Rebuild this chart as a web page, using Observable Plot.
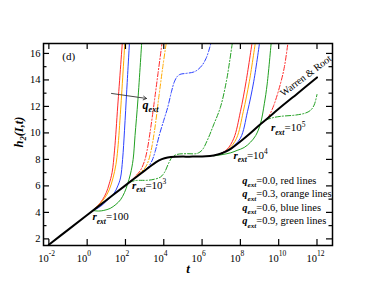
<!DOCTYPE html>
<html>
<head>
<meta charset="utf-8">
<script src="https://cdn.jsdelivr.net/npm/d3@7"></script>
<script src="https://cdn.jsdelivr.net/npm/@observablehq/plot@0.6"></script>
<style>
  html, body { margin: 0; padding: 0; background: white; }
</style>
</head>
<body>
<div id="chart"></div>
<script>
// ---- data: [log10 t, h2] pairs ----
const warrenRoot = [[-2,1.56],[-1,2.68],[0,3.8],[1,4.92],[2,6.04],[2.5,6.6],[3,7.15],[3.3,7.48],[3.6,7.8],[3.9,8.02],[4.2,8.14],[4.6,8.2],[5.5,8.21],[6.2,8.23],[6.6,8.3],[7.0,8.45],[7.5,8.8],[8.0,9.35],[8.5,9.95],[9.0,10.6],[9.5,11.2],[10,11.82],[11,13.0],[12,14.19]];

// r_ext = 100 (solid)
const r100_q00 = [[0.3,4.14],[0.55,4.5],[0.8,4.95],[1.0,5.5],[1.15,6.15],[1.3,7.0],[1.43,8.7],[1.6,12.1],[1.85,17.1]];
const r100_q03 = [[0.3,4.14],[0.6,4.55],[0.9,5.05],[1.15,5.7],[1.35,6.6],[1.5,7.6],[1.6,8.8],[1.75,11.8],[1.98,17.1]];
const r100_q06 = [[0.3,4.14],[0.7,4.45],[1.0,4.85],[1.39,5.4],[1.6,6.0],[1.74,6.6],[1.85,8.0],[1.95,10.2],[2.07,13.3],[2.22,17.1]];
const r100_q09 = [[0.3,4.14],[0.6,4.1],[0.87,4.15],[1.2,4.3],[1.5,4.6],[1.74,4.95],[1.95,5.5],[2.1,6.1],[2.26,6.9],[2.4,8.0],[2.5,9.8],[2.65,12.5],[2.86,17.1]];

// r_ext = 10^3 (dash-dot)
const r1e3_q00 = [[2.2,6.26],[2.5,6.7],[2.78,7.17],[3.0,7.9],[3.13,8.68],[3.3,10.2],[3.5,12.3],[3.7,14.5],[3.93,17.0]];
const r1e3_q03 = [[2.2,6.26],[2.5,6.65],[2.75,6.98],[3.04,7.4],[3.2,7.9],[3.34,8.68],[3.52,10.2],[3.75,12.8],[3.95,15.0],[4.15,17.0]];
const r1e3_q06 = [[2.2,6.26],[2.5,6.62],[2.9,7.05],[3.2,7.45],[3.4,7.95],[3.55,8.6],[3.78,9.9],[4.0,10.95],[4.21,11.95],[4.4,13.1],[4.55,13.85],[4.7,14.25],[4.85,14.42],[5.2,14.5],[5.57,14.6],[5.8,14.8],[6.0,15.1],[6.2,15.6],[6.35,16.2],[6.5,17.0]];
const r1e3_q09 = [[2.2,6.26],[2.5,6.4],[2.8,6.42],[3.13,6.42],[3.5,6.5],[3.83,6.67],[4.05,7.05],[4.25,7.7],[4.44,8.17],[4.7,8.38],[5.2,8.43],[5.74,8.45],[6.0,8.7],[6.27,9.43],[6.6,10.6],[6.96,11.95],[7.27,13.9],[7.45,15.5],[7.6,17.0]];

// r_ext = 10^4 (solid)
const r1e4_q00 = [[6.9,8.4],[7.3,8.75],[7.66,9.6],[8.0,11.6],[8.3,13.9],[8.63,17.0]];
const r1e4_q03 = [[6.9,8.4],[7.4,8.8],[7.8,9.6],[8.15,11.6],[8.47,13.9],[8.8,17.0]];
const r1e4_q06 = [[6.9,8.4],[7.5,8.85],[8.0,9.6],[8.37,11.6],[8.7,13.9],[9.02,17.0]];
const r1e4_q09 = [[6.6,8.27],[7.0,8.35],[7.5,8.5],[7.83,8.68],[8.2,8.9],[8.53,9.3],[8.8,9.8],[9.05,10.7],[9.25,12.2],[9.4,13.7],[9.62,17.0]];

// r_ext = 10^5 (dash-dot)
const r1e5_q00 = [[9.0,10.6],[9.3,10.95],[9.48,11.25],[9.74,12.07],[10.09,13.7],[10.3,15.0],[10.5,17.0]];
const r1e5_q09 = [[8.9,10.5],[9.3,10.95],[9.7,11.15],[10.1,11.25],[10.9,11.35],[11.4,11.5],[11.66,11.7],[11.85,12.1],[12.0,12.9]];

// ticks
const xTickExps = [-2, 0, 2, 4, 6, 8, 10, 12];
const yMajor = [2, 4, 6, 8, 10, 12, 14, 16];
const yMinor = [3, 5, 7, 9, 11, 13, 15];

// q_ext arrow (log10 t, h)
const arrowQ = [{u1: 1.27, h1: 12.98, u2: 3.1, h2: 12.6}];

// text annotations: B = bold italic, b = bold italic subscript, n = normal, s = superscript
const annotations = [
  {u: -1.3, h: 15.54, s: "n:(d)", size: 11},
  {u: 2.89, h: 11.84, s: "B:q|b:ext", size: 12},
  {u: 0.28, h: 3.39, s: "B:r|b:ext|n:=100", size: 11},
  {u: 2.34, h: 5.77, s: "B:r|b:ext|n:=10|s:3", size: 11},
  {u: 7.64, h: 8.03, s: "B:r|b:ext|n:=10|s:4", size: 11},
  {u: 9.6, h: 10.11, s: "B:r|b:ext|n:=10|s:5", size: 11},
  {u: 8.1, h: 6.15, s: "B:q|b:ext|n:=0.0, red lines", size: 10.5},
  {u: 8.1, h: 5.13, s: "B:q|b:ext|n:=0.3, orange lines", size: 10.5},
  {u: 8.1, h: 4.11, s: "B:q|b:ext|n:=0.6, blue lines", size: 10.5},
  {u: 8.1, h: 3.09, s: "B:q|b:ext|n:=0.9, green lines", size: 10.5}
];
const wrLabel = [{u: 11.42, h: 14.32, s: "Warren & Root"}];

const RED = "#ff2a2a", ORANGE = "#ffaa00", BLUE = "#2a40ff", GREEN = "#22a022";
const DASHDOT = "5,2,1.2,2";

const series = [
  {pts: r100_q00, c: RED}, {pts: r100_q03, c: ORANGE}, {pts: r100_q06, c: BLUE}, {pts: r100_q09, c: GREEN},
  {pts: r1e3_q00, c: RED, d: DASHDOT}, {pts: r1e3_q03, c: ORANGE, d: DASHDOT}, {pts: r1e3_q06, c: BLUE, d: DASHDOT}, {pts: r1e3_q09, c: GREEN, d: DASHDOT},
  {pts: r1e4_q00, c: RED}, {pts: r1e4_q03, c: ORANGE}, {pts: r1e4_q06, c: BLUE}, {pts: r1e4_q09, c: GREEN},
  {pts: r1e5_q00, c: RED, d: DASHDOT}, {pts: r1e5_q09, c: GREEN, d: DASHDOT}
];

const W = 374, H = 289, ML = 43, MR = 42, MT = 43, MB = 44;
const PW = W - ML - MR, PH = H - MT - MB;

const lineMarks = series.map(s => Plot.line(s.pts, {
  x: d => 10 ** d[0], y: d => d[1], stroke: s.c, strokeWidth: 1,
  strokeDasharray: s.d, curve: "catmull-rom", clip: true
}));

const chart = Plot.plot({
  width: W, height: H,
  marginLeft: ML, marginRight: MR, marginTop: MT, marginBottom: MB,
  x: {type: "log", domain: [10 ** -2.28, 10 ** 12.81], axis: null},
  y: {domain: [1.5, 16.75], axis: null},
  style: {fontFamily: "'Liberation Serif', 'Times New Roman', serif", background: "white", color: "black"},
  marks: [
    ...lineMarks,
    Plot.line(warrenRoot, {x: d => 10 ** d[0], y: d => d[1], stroke: "black", strokeWidth: 2, curve: "catmull-rom", clip: true}),
    Plot.arrow(arrowQ, {x1: d => 10 ** d.u1, y1: d => d.h1, x2: d => 10 ** d.u2, y2: d => d.h2, stroke: "#333", strokeWidth: 0.9, headLength: 6}),
    // ticks (inward)
    Plot.ruleX(xTickExps, {x: d => 10 ** d, insetTop: PH - 6, stroke: "black", strokeWidth: 1.2}),
    Plot.ruleX(xTickExps, {x: d => 10 ** d, insetBottom: PH - 6, stroke: "black", strokeWidth: 1.2}),
    Plot.ruleY(yMajor, {y: d => d, insetRight: PW - 6, stroke: "black", strokeWidth: 1.2}),
    Plot.ruleY(yMajor, {y: d => d, insetLeft: PW - 6, stroke: "black", strokeWidth: 1.2}),
    Plot.ruleY(yMinor, {y: d => d, insetRight: PW - 3.5, stroke: "black", strokeWidth: 1.2}),
    Plot.ruleY(yMinor, {y: d => d, insetLeft: PW - 3.5, stroke: "black", strokeWidth: 1.2}),
    Plot.frame({stroke: "black", strokeWidth: 1.5}),
    // tick labels
    Plot.text(xTickExps, {x: d => 10 ** d, text: () => "10", frameAnchor: "bottom", dy: 16, lineAnchor: "bottom", textAnchor: "end", fontSize: 10.5}),
    Plot.text(xTickExps, {x: d => 10 ** d, text: d => String(d), frameAnchor: "bottom", dy: 10.5, lineAnchor: "bottom", textAnchor: "start", fontSize: 7.5}),
    Plot.text(yMajor, {y: d => d, text: d => String(d), frameAnchor: "left", dx: -3, textAnchor: "end", fontSize: 10.5}),
    // axis titles
    Plot.text(["t"], {frameAnchor: "bottom", text: d => d, dy: 27, lineAnchor: "bottom", fontWeight: "bold", fontStyle: "italic", fontSize: 13}),
    Plot.text(["B:h|b:2|B:(I,t)"], {frameAnchor: "left", text: d => d, rotate: -90, dx: -25, dy: 3, fontSize: 12.5}),
    // annotations
    Plot.text(annotations, {x: d => 10 ** d.u, y: d => d.h, text: d => d.s, fontSize: d => d.size, textAnchor: "start", lineAnchor: "bottom"}),
    Plot.text(wrLabel, {x: d => 10 ** d.u, y: d => d.h, text: d => d.s, rotate: -37, fontSize: 10})
  ]
});

// turn "kind:text|kind:text" into tspans (sub/superscripts, bold italic parts)
d3.select(chart).selectAll("text").each(function() {
  const src = this.textContent;
  if (!/^[Bbns]:/.test(src)) return;
  const el = d3.select(this);
  el.selectAll("*").remove();
  el.text(null);
  let shift = 0;
  for (const tok of src.split("|")) {
    const kind = tok[0], str = tok.slice(2);
    const small = kind === "b" || kind === "s";
    const target = kind === "b" ? 0.3 : kind === "s" ? -0.42 : 0;
    const scale = small ? 0.68 : 1;
    const t = el.append("tspan").text(str);
    if (small) t.attr("font-size", "68%");
    if (kind === "B" || kind === "b") t.attr("font-weight", "bold").attr("font-style", "italic");
    const d = target - shift;
    if (d) t.attr("dy", (d / scale).toFixed(3) + "em");
    shift = target;
  }
});

document.getElementById("chart").appendChild(chart);
</script>
</body>
</html>
